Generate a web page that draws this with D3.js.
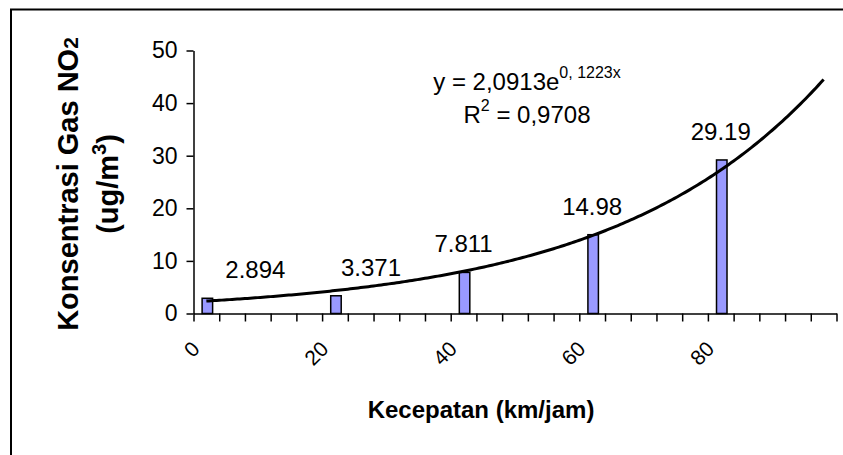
<!DOCTYPE html>
<html>
<head>
<meta charset="utf-8">
<script src="https://cdn.jsdelivr.net/npm/d3@7"></script>
<style>
  html, body { margin: 0; padding: 0; background: #fff; }
  svg { display: block; }
  text { font-family: Arial, "Liberation Sans", sans-serif; fill: #000; }
</style>
</head>
<body>
<svg id="chart" width="843" height="455"></svg>
<script>
// Speed categories on the horizontal axis (km/jam)
const categories = [0, 4, 8, 12, 16, 20, 24, 28, 32, 36, 40, 44, 48, 52, 56, 60, 64, 68, 72, 76, 80, 84, 88, 92, 96];
const tickLabels = [0, 20, 40, 60, 80];
// Measured NO2 concentration per speed (ug/m3)
const speeds = [0, 20, 40, 60, 80];
const no2 = [2.894, 3.371, 7.811, 14.98, 29.19];
const yTicks = [0, 10, 20, 30, 40, 50];
// Exponential trend: y = a * e^(b * x), x = category index starting at 1
const trendA = 2.0913;
const trendB = 0.1223;
const rSquared = 0.9708;

const svg = d3.select("#chart");

// Outer chart frame (runs off the right and bottom edges)
svg.append("rect")
  .attr("x", 11).attr("y", 9.5)
  .attr("width", 900).attr("height", 500)
  .attr("fill", "none").attr("stroke", "#000").attr("stroke-width", 2);

const plotLeft = 193.5, plotRight = 836.5, plotTop = 50.5, plotBottom = 313.5;

const x = d3.scaleBand().domain(categories).range([plotLeft, plotRight]).padding(0);
const xEdge = d3.scaleLinear().domain([0, categories.length]).range([plotLeft, plotRight]);
const y = d3.scaleLinear().domain([0, 50]).range([plotBottom, plotTop]);

// Y axis
const yAxis = svg.append("g")
  .attr("transform", `translate(${plotLeft},0)`)
  .call(d3.axisLeft(y).tickValues(yTicks).tickSize(7).tickSizeOuter(0).tickPadding(9));
yAxis.selectAll("path, line").attr("stroke", "#000").attr("stroke-width", 1.5);
yAxis.selectAll("text").attr("font-size", 23).attr("font-family", "Arial, 'Liberation Sans', sans-serif").attr("fill", "#000");

// X axis: ticks on category boundaries
const xAxis = svg.append("g")
  .attr("transform", `translate(0,${plotBottom})`)
  .call(d3.axisBottom(xEdge).tickValues(d3.range(categories.length + 1)).tickFormat("").tickSize(8).tickSizeOuter(0));
xAxis.selectAll("path, line").attr("stroke", "#000").attr("stroke-width", 1.5);

// Rotated category labels
svg.append("g").selectAll("text")
  .data(tickLabels)
  .join("text")
  .attr("transform", d => `translate(${x(d) + x.bandwidth() / 2 - 16},${plotBottom + 26}) rotate(-45)`)
  .attr("text-anchor", "end")
  .attr("dy", "0.72em")
  .attr("font-size", 21)
  .text(d => d);

// Bars
const barW = 10.5;
svg.append("g").selectAll("rect")
  .data(speeds.map((s, i) => ({ s, v: no2[i] })))
  .join("rect")
  .attr("x", d => x(d.s) + x.bandwidth() / 2 - barW / 2 + 1)
  .attr("y", d => y(d.v))
  .attr("width", barW)
  .attr("height", d => y(0) - y(d.v))
  .attr("fill", "#9999ff")
  .attr("stroke", "#000")
  .attr("stroke-width", 1.5);

// Trend line
const trendPts = d3.range(1, categories.length + 0.001, 0.1);
svg.append("path")
  .datum(trendPts)
  .attr("fill", "none")
  .attr("stroke", "#000")
  .attr("stroke-width", 3)
  .attr("d", d3.line()
    .x(i => xEdge(i - 0.5))
    .y(i => y(trendA * Math.exp(trendB * i))));

// Value labels (first two nudged right, clear of the trend line)
const labelDx = [49, 36, 0, 0, 0];
svg.append("g").selectAll("text")
  .data(speeds.map((s, i) => ({ s, v: no2[i], dx: labelDx[i] })))
  .join("text")
  .attr("x", d => x(d.s) + x.bandwidth() / 2 + d.dx)
  .attr("y", d => y(d.v) - 20)
  .attr("text-anchor", "middle")
  .attr("font-size", 24)
  .text(d => String(d.v));

// Trend equation
const fmt = v => String(v).replace(".", ",");
const eq = svg.append("text").attr("x", 527).attr("y", 90).attr("text-anchor", "middle").attr("font-size", 24);
eq.append("tspan").text(`y = ${fmt(trendA)}e`);
eq.append("tspan").attr("font-size", 16).attr("dy", -12).text(`${fmt(trendB).replace(",", ", ")}x`);
const r2 = svg.append("text").attr("x", 527).attr("y", 123).attr("text-anchor", "middle").attr("font-size", 24);
r2.append("tspan").text("R");
r2.append("tspan").attr("font-size", 16).attr("dy", -12).text("2");
r2.append("tspan").attr("dy", 12).text(` = ${fmt(rSquared)}`);

// Axis titles
svg.append("text")
  .attr("x", 481).attr("y", 418)
  .attr("text-anchor", "middle")
  .attr("font-size", 24).attr("font-weight", "bold")
  .text("Kecepatan (km/jam)");

const yt = svg.append("g").attr("transform", "translate(0,184) rotate(-90)");
const yt1 = yt.append("text").attr("x", 0).attr("y", 78).attr("text-anchor", "middle")
  .attr("font-size", 29).attr("font-weight", "bold");
yt1.append("tspan").text("Konsentrasi Gas NO");
yt1.append("tspan").attr("font-size", 21).text("2");
const yt2 = yt.append("text").attr("x", 0).attr("y", 118).attr("text-anchor", "middle")
  .attr("font-size", 29).attr("font-weight", "bold");
yt2.append("tspan").text("(ug/m");
yt2.append("tspan").attr("font-size", 20).attr("dy", -12).text("3");
yt2.append("tspan").attr("dy", 12).text(")");
</script>
</body>
</html>
